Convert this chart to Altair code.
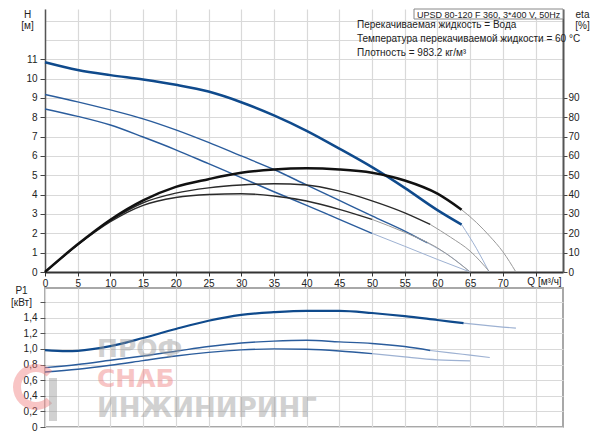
import altair as alt
import pandas as pd

FONT = "Liberation Sans"

# ---------------- data ----------------
# Head curves H [m]
q_h_max = [0, 5, 10, 15, 20, 25, 30, 35, 40, 45, 50, 55, 60, 63.7]
h_max = [10.85, 10.45, 10.18, 9.95, 9.68, 9.33, 8.78, 8.1, 7.3, 6.38, 5.42, 4.35, 3.2, 2.45]
q_h_max_ext = [63.7, 66, 67.9]
h_max_ext = [2.45, 1.2, 0]

q_h_mid = [0, 5, 10, 15, 20, 25, 30, 35, 40, 45, 50, 55, 58.5]
h_mid = [9.18, 8.8, 8.38, 7.92, 7.35, 6.7, 6.0, 5.3, 4.5, 3.7, 2.9, 2.12, 1.5]
q_h_mid_ext = [58.5, 62, 65]
h_mid_ext = [1.5, 0.8, 0]

q_h_low = [0, 5, 10, 15, 20, 25, 30, 35, 40, 45, 50]
h_low = [8.43, 8.05, 7.6, 6.98, 6.32, 5.6, 4.88, 4.15, 3.45, 2.72, 2.0]
q_h_low_ext = [50, 55, 60, 65]
h_low_ext = [2.0, 1.33, 0.65, 0]

# Efficiency curves eta [%]
q_e_max = [0, 5, 10, 15, 20, 25, 30, 35, 40, 45, 50, 55, 60, 63.7]
e_max = [0, 14.3, 27, 37, 44, 48, 51.3, 53, 53.6, 53, 51.3, 47.3, 40.5, 32.2]
q_e_max_ext = [63.7, 66, 68, 70, 72]
e_max_ext = [32.2, 25.5, 18.5, 10.5, 0]

q_e_mid = [0, 5, 10, 15, 20, 25, 30, 35, 40, 45, 50, 55, 58.9]
e_mid = [0, 14.2, 26.5, 35.8, 40.8, 43.5, 45, 45.6, 45, 41.8, 36.8, 30.6, 24.6]
q_e_mid_ext = [58.9, 62, 65, 68]
e_mid_ext = [24.6, 18, 10.8, 0]

q_e_low = [0, 5, 10, 15, 20, 25, 30, 35, 40, 45, 50]
e_low = [0, 14, 26, 34.5, 38.5, 40.1, 40.5, 39.3, 36.7, 32.4, 27.2]
q_e_low_ext = [50, 55, 60, 65]
e_low_ext = [27.2, 20.5, 12.5, 0]

# Power curves P1 [kW]
q_p_max = [0, 3.3, 5, 10, 15, 20, 25, 30, 35, 40, 45, 50, 55, 60, 64]
p_max = [0.985, 0.972, 0.976, 1.035, 1.14, 1.255, 1.36, 1.435, 1.47, 1.488, 1.488, 1.46, 1.42, 1.37, 1.33]
q_p_max_ext = [64, 67, 70, 72]
p_max_ext = [1.33, 1.305, 1.28, 1.265]

q_p_mid = [0, 5, 10, 15, 20, 25, 30, 35, 40, 45, 50, 55, 58.9]
p_mid = [0.76, 0.80, 0.855, 0.91, 0.97, 1.03, 1.075, 1.10, 1.11, 1.09, 1.07, 1.03, 0.98]
q_p_mid_ext = [58.9, 62, 65, 68]
p_mid_ext = [0.98, 0.95, 0.92, 0.89]

q_p_low = [0, 5, 10, 15, 20, 25, 30, 35, 40, 45, 50]
p_low = [0.705, 0.74, 0.79, 0.85, 0.91, 0.955, 0.987, 1.0, 0.995, 0.974, 0.94]
q_p_low_ext = [50, 55, 60, 65]
p_low_ext = [0.94, 0.897, 0.86, 0.846]

q_ticks = list(range(0, 80, 5))
h_ticks = list(range(0, 14))
eta_ticks = list(range(0, 100, 10))
p_ticks = [0, 0.2, 0.4, 0.6, 0.8, 1.0, 1.2, 1.4, 1.6]

title_box = ["UPSD 80-120 F 360, 3*400 V, 50Hz"]
info_text = ["Перекачиваемая жидкость = Вода\nТемпература перекачиваемой жидкости = 60 °C\nПлотность = 983.2 кг/м³"]
wm_words = ["ПРОФ", "СНАБ", "ИНЖИНИРИНГ"]

# ---------------- styling ----------------
GRID = "#d9d9d9"
BLUE_THICK = "#0f4a8c"
BLUE = "#2a5c9c"
BLUE_EXT = "#9db1d2"
BLACK = "#111111"
BLACK_THIN = "#2a2a2a"
GREY_EXT = "#9a9a9a"

X_DOM = [0, 79.2]
H_DOM = [0, 13.6]
ETA_DOM = [0, 136]
P_DOM = [0, 1.78]

W = 518
H_TOP = 263
H_BOT = 139

x_top = alt.X(
    "q:Q",
    scale=alt.Scale(domain=X_DOM, nice=False, zero=False),
    axis=alt.Axis(
        values=q_ticks,
        labelExpr="datum.value <= 70 ? datum.label : ''",
        grid=True, gridColor=GRID, gridWidth=1.2,
        tickSize=4, tickColor="#333", labelPadding=2,
        domainColor="#333", domainWidth=2,
        title="Q [м³/ч]", titleX=499, titleY=9, titleAngle=0,
        titleAlign="center", titleBaseline="middle",
    ),
)

y_h = alt.Y(
    "v:Q",
    scale=alt.Scale(domain=H_DOM, nice=False, zero=False),
    axis=alt.Axis(
        values=h_ticks,
        labelExpr="datum.value <= 11 ? datum.label : ''",
        tickOpacity={"condition": {"test": "datum.value > 11", "value": 0}, "value": 1},
        grid=True, gridColor=GRID, gridWidth=1.2,
        tickSize=5, tickColor="#444", labelPadding=3,
        domainColor="#555", domainWidth=1.5,
        title=["H", "[м]"], titleAngle=0, titleX=-18, titleY=0,
        titleAlign="center", titleBaseline="top", titleLineHeight=11,
    ),
)

y_eta = alt.Y(
    "v:Q",
    scale=alt.Scale(domain=ETA_DOM, nice=False, zero=False),
    axis=alt.Axis(
        orient="right", values=eta_ticks, grid=False,
        tickSize=4, tickColor="#444", labelPadding=1,
        domainColor="#555", domainWidth=2,
        title=["eta", "[%]"], titleAngle=0, titleX=19, titleY=0,
        titleAlign="center", titleBaseline="top", titleLineHeight=11,
    ),
)


def line(q, v, color, width, x_enc, y_enc):
    return alt.Chart(pd.DataFrame({"q": q, "v": v})).mark_line(
        color=color, strokeWidth=width, interpolate="monotone"
    ).encode(x=x_enc, y=y_enc)


h_layers = alt.layer(
    line(q_h_max_ext, h_max_ext, BLUE_EXT, 1, x_top, y_h),
    line(q_h_mid_ext, h_mid_ext, BLUE_EXT, 1, x_top, y_h),
    line(q_h_low_ext, h_low_ext, BLUE_EXT, 1, x_top, y_h),
    line(q_h_mid, h_mid, BLUE, 1.4, x_top, y_h),
    line(q_h_low, h_low, BLUE, 1.4, x_top, y_h),
    line(q_h_max, h_max, BLUE_THICK, 2.5, x_top, y_h),
)

eta_layers = alt.layer(
    line(q_e_max_ext, e_max_ext, GREY_EXT, 1, x_top, y_eta),
    line(q_e_mid_ext, e_mid_ext, GREY_EXT, 1, x_top, y_eta),
    line(q_e_low_ext, e_low_ext, GREY_EXT, 1, x_top, y_eta),
    line(q_e_mid, e_mid, BLACK_THIN, 1.4, x_top, y_eta),
    line(q_e_low, e_low, BLACK_THIN, 1.4, x_top, y_eta),
    line(q_e_max, e_max, BLACK, 2.5, x_top, y_eta),
)

box = alt.Chart(pd.DataFrame({"t": title_box})).mark_rect(
    fill="white", stroke="#888", strokeWidth=1
).encode(x=alt.value(369), x2=alt.value(518), y=alt.value(0), y2=alt.value(10))

box_text = alt.Chart(pd.DataFrame({"t": title_box})).mark_text(
    align="left", baseline="middle", fontSize=9, font=FONT, color="#222"
).encode(text="t:N", x=alt.value(372), y=alt.value(5.5))

info = alt.Chart(pd.DataFrame({"t": info_text})).mark_text(
    align="left", baseline="middle", fontSize=10, font=FONT, color="#222",
    lineBreak="\n", lineHeight=14,
).encode(text="t:N", x=alt.value(312), y=alt.value(16))

top = alt.layer(h_layers, eta_layers, box, box_text, info).resolve_scale(
    y="independent"
).properties(width=W, height=H_TOP)

# ---------------- bottom panel ----------------
x_bot = alt.X(
    "q:Q",
    scale=alt.Scale(domain=X_DOM, nice=False, zero=False),
    axis=alt.Axis(values=q_ticks, labels=False, ticks=False, domain=False,
                  grid=True, gridColor=GRID, gridWidth=1.2, title=None),
)
y_p = alt.Y(
    "v:Q",
    scale=alt.Scale(domain=P_DOM, nice=False, zero=False),
    axis=alt.Axis(
        values=p_ticks,
        labelExpr="datum.value == 0 ? '0' : (datum.value > 1.5 ? '' : replace(format(datum.value, '.1f'), '.', ','))",
        grid=True, gridColor=GRID, gridWidth=1.2,
        tickSize=5, tickColor="#555", labelPadding=3, domain=False,
        title=["P1", "[кВт]"], titleAngle=0, titleX=-24, titleY=-3,
        titleAlign="center", titleBaseline="top", titleLineHeight=12,
    ),
)

p_layers = alt.layer(
    line(q_p_max_ext, p_max_ext, BLUE_EXT, 1.2, x_bot, y_p),
    line(q_p_mid_ext, p_mid_ext, BLUE_EXT, 1.2, x_bot, y_p),
    line(q_p_low_ext, p_low_ext, BLUE_EXT, 1.2, x_bot, y_p),
    line(q_p_mid, p_mid, BLUE, 1.4, x_bot, y_p),
    line(q_p_low, p_low, BLUE, 1.4, x_bot, y_p),
    line(q_p_max, p_max, BLUE_THICK, 2.2, x_bot, y_p),
)


def wm(text, x, y, size, color):
    return alt.Chart(pd.DataFrame({"t": [text]})).mark_text(
        align="left", baseline="middle", fontSize=size, font="DejaVu Sans",
        fontWeight="bold", color=color, opacity=0.45,
    ).encode(text="t:N", x=alt.value(x), y=alt.value(y))


logo_arc = alt.Chart(pd.DataFrame({"t": wm_words[:1]})).mark_arc(
    theta=2.36, theta2=7.07, radius=23, radius2=15, color="#ef7f7f", opacity=0.45,
).encode(x=alt.value(-9), y=alt.value(99))

logo_bar = alt.Chart(pd.DataFrame({"t": wm_words[:1]})).mark_rect(
    color="#9a9a9a", opacity=0.45,
).encode(x=alt.value(4), x2=alt.value(12), y=alt.value(90), y2=alt.value(133))

watermark = alt.layer(
    wm(wm_words[0], 52, 61, 25, "#9a9a9a"),
    wm(wm_words[1], 52, 91, 25, "#ef7f7f"),
    wm(wm_words[2], 52, 121, 26, "#9a9a9a"),
    logo_arc,
    logo_bar,
)

bottom = alt.layer(p_layers, watermark).properties(
    width=W, height=H_BOT,
    view=alt.ViewBackground(stroke="#a8a8a8", strokeWidth=2),
)

chart = alt.vconcat(top, bottom, spacing=16, bounds="flush").properties(
    padding={"left": 1, "top": 0, "right": 0, "bottom": 0}
).configure(font=FONT).configure_view(stroke=None).configure_axis(
    labelFont=FONT, labelFontSize=10, labelColor="#222", labelFlush=False,
    titleFont=FONT, titleFontSize=10, titleFontWeight="normal", titleColor="#222",
)

chart.save("out.html", embed_options={"renderer": "svg", "actions": False})
